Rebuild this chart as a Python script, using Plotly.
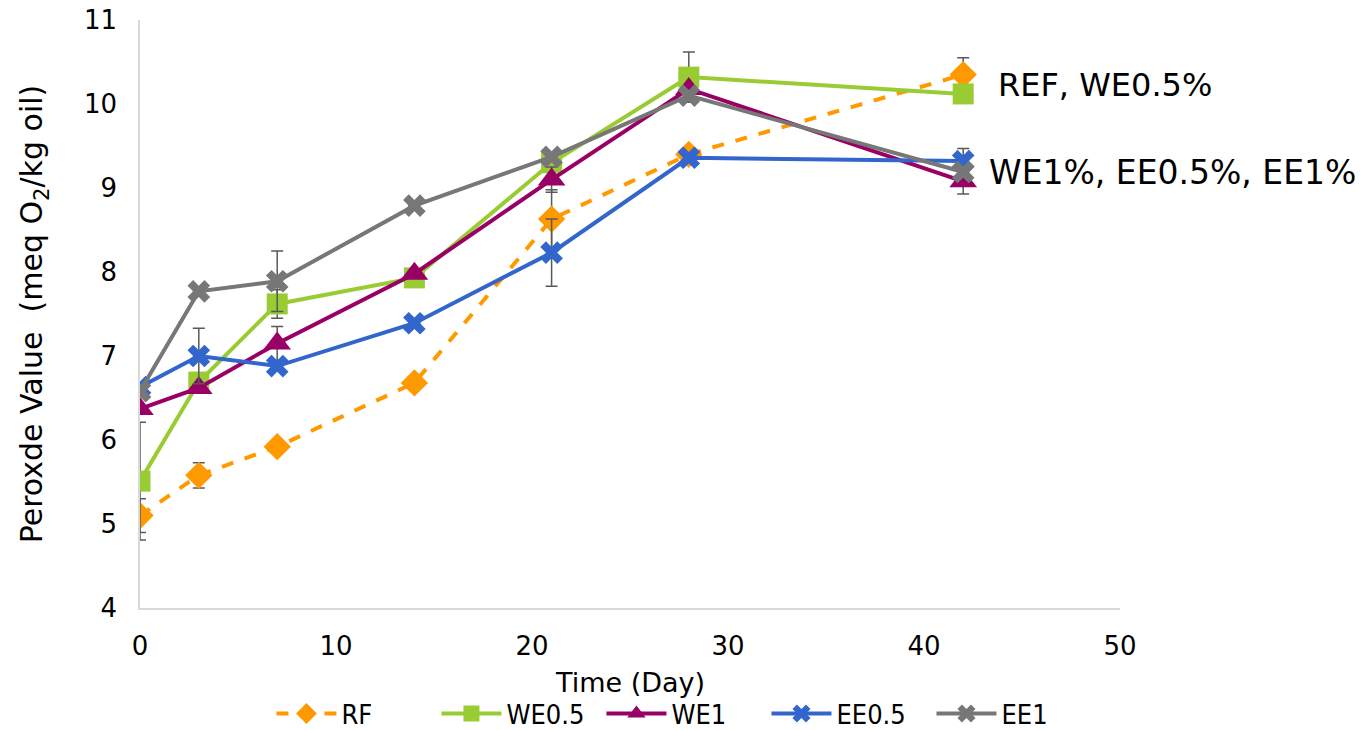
import plotly.graph_objects as go

days = [0, 3, 7, 14, 21, 28, 42]

rf = [5.10, 5.58, 5.92, 6.68, 8.63, 9.40, 10.35]
we05 = [5.51, 6.69, 7.62, 7.93, 9.30, 10.32, 10.12]
we1 = [6.37, 6.62, 7.15, 7.98, 9.10, 10.18, 9.08]
ee05 = [6.63, 7.00, 6.88, 7.39, 8.23, 9.36, 9.32]
ee1 = [6.58, 7.77, 7.89, 8.79, 9.37, 10.10, 9.19]

rf_err = [0.20, 0.15, None, None, 0.35, None, 0.20]
we05_err = [0.70, None, 0.17, None, None, 0.30, None]
we1_err = [None, None, 0.20, None, 0.15, None, 0.15]
ee05_err = [None, 0.33, None, None, 0.40, None, 0.15]
ee1_err = [None, None, 0.36, None, None, None, None]

series = [
    ("RF", rf, rf_err, "#FF9900", "dash", "diamond", 21),
    ("WE0.5", we05, we05_err, "#99CC33", "solid", "square", 21),
    ("WE1", we1, we1_err, "#990066", "solid", "triangle-up", 24),
    ("EE0.5", ee05, ee05_err, "#3366CC", "solid", "x", 20),
    ("EE1", ee1, ee1_err, "#777777", "solid", "x", 20),
]

annot_texts = ["REF, WE0.5%", "WE1%, EE0.5%, EE1%"]
x_title = "Time (Day)"

fig = go.Figure()
for name, vals, err, color, dash, sym, size in series:
    fig.add_trace(go.Scatter(
        x=days, y=vals, name=name, mode="lines+markers",
        line=dict(color=color, width=4, dash=dash),
        marker=dict(symbol=sym, size=size, color=color, line=dict(width=0)),
        error_y=dict(type="data", array=err, symmetric=True,
                     color="#595959", thickness=1.5, width=6),
    ))

fig.add_annotation(x=42, y=10.23, xref="x", yref="y", text=annot_texts[0],
                   showarrow=False, xanchor="left", xshift=33,
                   font=dict(size=32, color="#000000"))
fig.add_annotation(x=42, y=9.18, xref="x", yref="y", text=annot_texts[1],
                   showarrow=False, xanchor="left", xshift=24,
                   font=dict(size=33, color="#000000"))
fig.add_annotation(x=0.5, y=-0.127, xref="paper", yref="paper", text=x_title,
                   showarrow=False, xanchor="center", yanchor="middle",
                   font=dict(size=27, color="#000000"))

fig.update_layout(
    width=1371, height=730,
    margin=dict(l=140, r=251, t=20, b=122),
    paper_bgcolor="white", plot_bgcolor="white",
    font=dict(family="DejaVu Sans, Verdana, sans-serif", size=22, color="#000000"),
    xaxis=dict(range=[0, 50], tickvals=[0, 10, 20, 30, 40, 50],
               showgrid=False, zeroline=False, showline=True,
               linecolor="#D9D9D9", linewidth=1.5, ticks="",
               automargin=False, ticklabelstandoff=14,
               tickfont=dict(size=26)),
    yaxis=dict(range=[4, 11], tickvals=[4, 5, 6, 7, 8, 9, 10, 11],
               showgrid=False, zeroline=False, showline=True,
               linecolor="#D9D9D9", linewidth=1.5, ticks="",
               automargin=False, ticklabelstandoff=16,
               title=dict(text="Peroxde Value  (meq O<sub>2</sub>/kg oil)",
                          standoff=32, font=dict(size=30)),
               tickfont=dict(size=26)),
    legend=dict(orientation="h", xref="container", yref="container",
                x=0.198, xanchor="left", y=0.022, yanchor="middle",
                font=dict(size=27,
                          family="Liberation Sans Narrow, DejaVu Sans Condensed, sans-serif"),
                entrywidth=90, entrywidthmode="pixels",
                itemwidth=60, tracegroupgap=0, bgcolor="rgba(0,0,0,0)"),
    showlegend=True,
)

fig.write_html("out.html", config={"displayModeBar": False},
               post_script="document.body.style.margin='0';")
